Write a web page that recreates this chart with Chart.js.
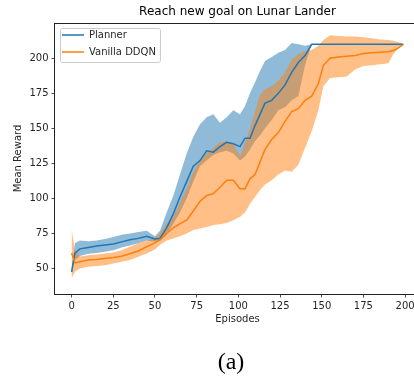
<!DOCTYPE html>
<html>
<head>
<meta charset="utf-8">
<script src="https://cdn.jsdelivr.net/npm/chart.js@4.4.1/dist/chart.umd.min.js"></script>
<style>
  html, body { margin: 0; padding: 0; background: #fff; overflow: hidden; width: 414px; height: 376px; }
  #wrap { position: relative; width: 414px; height: 376px; overflow: hidden; }
  #caption { position: absolute; left: 0; width: 462px; top: 347px; text-align: center;
             font-family: "Liberation Serif", serif; font-size: 24px; line-height: 28px; color: #000; }
</style>
</head>
<body>
<div id="wrap">
  <canvas id="chart" width="420" height="376"></canvas>
  <div id="caption">(a)</div>
</div>
<script>
const episodes = [0, 2, 5, 10, 15, 20, 25, 30, 35, 40, 45, 50, 53, 57, 61, 65, 69, 73, 77, 81,
  85, 89, 93, 97, 101, 104, 107, 110, 113, 116, 120, 124, 128, 132, 136, 140, 144, 148, 151, 155,
  160, 165, 170, 175, 180, 185, 190, 193, 196, 199];

const plannerMean = [47.6, 61, 64, 65, 66, 66.8, 67.5, 69, 70.5, 71.5, 73, 71, 71.5, 79, 89, 101, 112, 123, 127, 134,
  133, 137, 140, 139, 137, 143, 143, 152, 160, 168, 170, 175, 181, 190, 197, 202, 210, 210, 210, 210,
  210, 210, 210, 210, 210, 210, 210, 210, 210, 210];
const plannerUpper = [50, 68, 70, 69.5, 70, 71, 72.5, 74, 75, 76, 77, 73, 77, 90, 102, 117, 132, 144, 153, 158,
  160, 154, 158, 163, 160, 166, 175, 183, 191, 198, 201, 204, 206, 211, 210, 209, 210, 210, 210, 210,
  210, 210, 210, 210, 210, 210, 210, 210, 210, 210];
const plannerLower = [45, 56, 59, 60.5, 61, 62, 63, 65, 66.5, 68, 70, 69, 69.5, 74, 82, 90, 100, 112, 123, 127,
  131, 133, 134, 132, 127, 130, 135, 141, 145, 150, 156, 163, 165, 170, 173, 195, 210, 210, 210, 210,
  210, 210, 210, 210, 210, 210, 210, 210, 210, 210];

const vanillaMean = [61, 54, 54.8, 56, 56.4, 57.1, 57.8, 58.8, 60.5, 62.5, 65.5, 68.3, 70.5, 75, 79, 82, 84.5, 91, 98, 102,
  103.5, 108, 113, 113, 107, 107, 114, 117, 126, 135, 142, 147, 155, 162, 164, 170, 173, 182, 195, 200,
  201, 201.5, 202, 203.5, 204, 204.3, 204.7, 205.5, 207.5, 210];
const vanillaUpper = [78, 63, 58.5, 59.5, 60, 60.7, 61.5, 63, 65.5, 68, 70, 71.5, 75, 82, 87, 97, 107, 119, 127, 132,
  136, 140, 141, 139, 130, 140, 150, 162, 174, 178, 180, 184, 190, 199, 203, 205, 206, 209, 213, 216.5,
  216, 215.5, 215.5, 215, 214.3, 213.5, 213, 212.5, 211.5, 210];
const vanillaLower = [43, 47.6, 50, 51.2, 51.8, 52.4, 53.5, 54.8, 56, 58.3, 60.7, 63.6, 67, 70, 71.4, 73, 75, 77.4, 78.6, 79.7,
  81, 81.5, 82.5, 84.5, 86.9, 90, 96, 101, 105.9, 110, 113, 117, 120, 119, 124, 136, 148, 163, 180, 186,
  186.5, 187, 192, 194.5, 195, 195.8, 196.4, 203, 207, 210];

const xTicks = [0, 25, 50, 75, 100, 125, 150, 175, 200];
const yTicks = [50, 75, 100, 125, 150, 175, 200];

const blue = '#1f77b4';
const orange = '#ff7f0e';
const font = 'DejaVu Sans';

function pts(values) {
    return values.map((v, i) => ({ x: episodes[i], y: v }));
}

function band(values, fill, color, order) {
    return {
        label: '_band',
        data: pts(values),
        borderWidth: 0,
        borderColor: 'rgba(0,0,0,0)',
        backgroundColor: color,
        pointRadius: 0,
        fill: fill,
        order: order
    };
}

// put the legend in the top-left corner of the axes, with a matplotlib-like frame
const legendFrame = {
    id: 'legendFrame',
    afterLayout(chart) {
        const l = chart.legend;
        const a = chart.chartArea;
        if (!l) return;
        l.left = a.left;
        l.top = a.top;
        l.right = a.right;
        l.bottom = a.bottom;
    },
    beforeDraw(chart) {
        const boxes = chart.legend && chart.legend.legendHitBoxes;
        if (!boxes || !boxes.length) return;
        const left = Math.min(...boxes.map(b => b.left)) - 2;
        const top = Math.min(...boxes.map(b => b.top)) - 2;
        const right = Math.max(...boxes.map(b => b.left + b.width)) + 4;
        const bottom = Math.max(...boxes.map(b => b.top + b.height)) + 5;
        const ctx = chart.ctx;
        ctx.save();
        ctx.beginPath();
        ctx.roundRect(Math.round(left) + 0.5, Math.round(top) + 0.5, Math.round(right - left), Math.round(bottom - top), 2);
        ctx.fillStyle = 'rgba(255,255,255,0.8)';
        ctx.fill();
        ctx.strokeStyle = '#cccccc';
        ctx.lineWidth = 1;
        ctx.stroke();
        ctx.restore();
    }
};

// box around the axes
const frame = {
    id: 'frame',
    afterDatasetsDraw(chart) {
        const a = chart.chartArea;
        const ctx = chart.ctx;
        ctx.save();
        ctx.strokeStyle = '#222';
        ctx.lineWidth = 1;
        ctx.strokeRect(Math.round(a.left) - 0.5, Math.round(a.top) + 0.5,
            Math.round(a.right - a.left) + 1, Math.round(a.bottom - a.top));
        ctx.restore();
    }
};

new Chart(document.getElementById('chart'), {
    type: 'line',
    data: {
        datasets: [
            { label: 'Planner', data: pts(plannerMean), borderColor: blue, backgroundColor: blue,
              borderWidth: 1.5, pointRadius: 0, fill: false, order: 2 },
            { label: 'Vanilla DDQN', data: pts(vanillaMean), borderColor: orange, backgroundColor: orange,
              borderWidth: 1.5, pointRadius: 0, fill: false, order: 1 },
            band(plannerUpper, false, 'rgba(31,119,180,0.5)', 6),
            band(plannerLower, '-1', 'rgba(31,119,180,0.5)', 5),
            band(vanillaUpper, false, 'rgba(255,127,14,0.5)', 4),
            band(vanillaLower, '-1', 'rgba(255,127,14,0.5)', 3)
        ]
    },
    options: {
        responsive: false,
        animation: false,
        layout: { padding: { left: 0, right: 0, top: 0, bottom: 41 } },
        scales: {
            x: {
                type: 'linear',
                min: -9.95,
                max: 208.95,
                afterBuildTicks: s => { s.ticks = xTicks.map(v => ({ value: v })); },
                afterFit: s => { s.height = 41; },
                grid: { drawOnChartArea: false, drawTicks: true, tickLength: 3.5, color: '#222', lineWidth: 0.8 },
                border: { display: false },
                ticks: { color: '#262626', padding: 3, maxRotation: 0, font: { family: font, size: 10 } },
                title: { display: true, text: 'Episodes', color: '#262626',
                         font: { family: font, size: 10 }, padding: { top: 0, bottom: 9.5 } }
            },
            y: {
                min: 31.8,
                max: 225.2,
                afterBuildTicks: s => { s.ticks = yTicks.map(v => ({ value: v })); },
                afterFit: s => { s.width = 55; },
                grid: { drawOnChartArea: false, drawTicks: true, tickLength: 3.5, color: '#222', lineWidth: 0.8 },
                border: { display: false },
                ticks: { color: '#262626', padding: 3, font: { family: font, size: 10 } },
                title: { display: true, text: 'Mean Reward', color: '#262626',
                         font: { family: font, size: 10 }, padding: { top: 12.7, bottom: 0 } }
            }
        },
        plugins: {
            title: {
                display: true,
                text: 'Reach new goal on Lunar Lander',
                fullSize: false,
                color: '#000',
                font: { family: font, size: 12, weight: 'normal' },
                padding: { top: 5, bottom: 3.6 }
            },
            legend: {
                position: 'chartArea',
                align: 'start',
                labels: {
                    filter: item => item.text !== '_band',
                    sort: (a, b) => a.datasetIndex - b.datasetIndex,
                    usePointStyle: true,
                    pointStyle: 'line',
                    pointStyleWidth: 22,
                    padding: 7,
                    color: '#262626',
                    font: { family: font, size: 10 }
                }
            },
            tooltip: { enabled: false }
        }
    },
    plugins: [legendFrame, frame]
});
</script>
</body>
</html>
